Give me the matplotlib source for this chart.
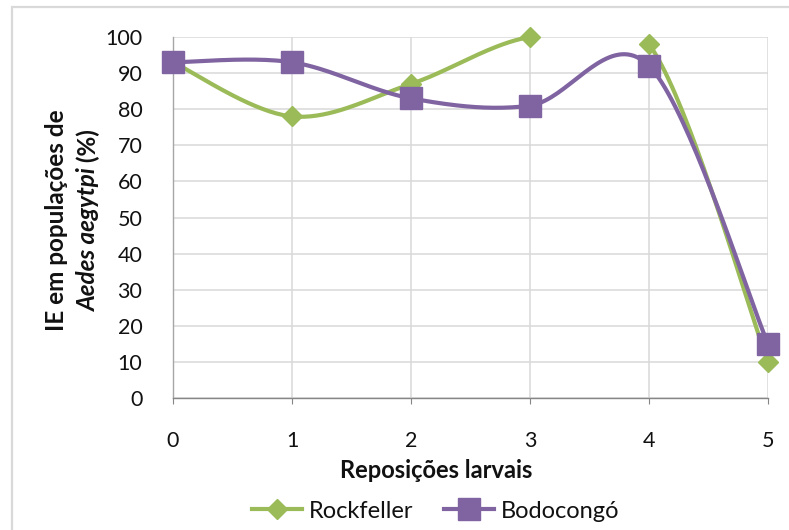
import numpy as np
import matplotlib
matplotlib.use("Agg")
import matplotlib.pyplot as plt
from matplotlib.lines import Line2D
from matplotlib.patches import Rectangle

# Data
reposicoes = [0, 1, 2, 3, 4, 5]
rockfeller = [93, 78, 87, 100, 98, 10]
bodocongo = [93, 93, 83, 81, 92, 15]
rockfeller_sem_linha = [(3, 4)]  # segment left without a connecting line
y_ticks = [0, 10, 20, 30, 40, 50, 60, 70, 80, 90, 100]

VERDE = "#9BBB59"
ROXO = "#8064A2"
GRADE = "#D9D9D9"
FONTE = "Lato"

W, H = 789, 530
plt.rcParams["font.family"] = [FONTE, "DejaVu Sans"]


def suavizar(x, y, passos=40, pular=()):
    """Smoothed curve through the points (cubic Bezier, Catmull-Rom tangents)."""
    x = np.asarray(x, float)
    y = np.asarray(y, float)
    n = len(x)
    xs, ys = [], []
    t = np.linspace(0, 1, passos)
    for i in range(n - 1):
        if (i, i + 1) in pular:
            xs.append(np.nan)
            ys.append(np.nan)
            continue
        a = max(i - 1, 0)
        d = min(i + 2, n - 1)
        p0 = np.array([x[i], y[i]])
        p3 = np.array([x[i + 1], y[i + 1]])
        p1 = p0 + (p3 - np.array([x[a], y[a]])) / 6.0
        p2 = p3 - (np.array([x[d], y[d]]) - p0) / 6.0
        b = ((1 - t) ** 3)[:, None] * p0 + (3 * (1 - t) ** 2 * t)[:, None] * p1 \
            + (3 * (1 - t) * t ** 2)[:, None] * p2 + (t ** 3)[:, None] * p3
        xs.extend(b[:, 0])
        ys.extend(b[:, 1])
    return np.array(xs), np.array(ys)


fig = plt.figure(figsize=(W / 100, H / 100), dpi=100)

# chart area border
fig.patches.append(Rectangle((12 / W, -0.05), 1.2, (H - 7) / H + 0.05,
                             transform=fig.transFigure, fill=False,
                             edgecolor=GRADE, linewidth=1.6))

left, right, top, bottom = 173, 768, 37, 398
ax = fig.add_axes([left / W, (H - bottom) / H, (right - left) / W, (bottom - top) / H])

ax.set_xlim(0, 5)
ax.set_ylim(0, 100)
ax.set_yticks(y_ticks)
ax.set_xticks(reposicoes)
ax.grid(True, color=GRADE, linewidth=1.1)
ax.set_axisbelow(True)
for s in ["top", "right"]:
    ax.spines[s].set_visible(False)
ax.spines["left"].set_color("#A6A6A6")
ax.spines["bottom"].set_color("#868686")
ax.spines["left"].set_linewidth(1.0)
ax.spines["bottom"].set_linewidth(1.0)
ax.tick_params(axis="y", length=0, pad=22, labelsize=15.5, labelcolor="#111111")
ax.tick_params(axis="x", length=4, color="#868686", pad=20, labelsize=15.5, labelcolor="#111111")

xr, yr = suavizar(reposicoes, rockfeller, pular=rockfeller_sem_linha)
xb, yb = suavizar(reposicoes, bodocongo)

ax.plot(xr, yr, color=VERDE, linewidth=3, solid_capstyle="round", clip_on=False, zorder=3)
ax.plot(reposicoes, rockfeller, linestyle="none", marker="D", markersize=10.5,
        color=VERDE, clip_on=False, zorder=4)
ax.plot(xb, yb, color=ROXO, linewidth=3, solid_capstyle="round", clip_on=False, zorder=5)
ax.plot(reposicoes, bodocongo, linestyle="none", marker="s", markersize=15.5,
        color=ROXO, clip_on=False, zorder=6)

# axis titles
fig.text(436 / W, (H - 470) / H, "Reposições larvais", ha="center", va="center",
         fontsize=17, fontweight="bold", color="#111111")

yc = (H - 220) / H
fig.text(57 / W, yc, "IE em populações de", rotation=90, ha="center", va="center",
         fontsize=17.5, fontweight="bold", color="#111111")

renderer = fig.canvas.get_renderer()
t1 = fig.text(0, 0, "Aedes aegytpi", rotation=90, rotation_mode="anchor",
              ha="left", va="center", fontsize=17.5, fontweight="bold",
              fontstyle="italic", color="#111111")
t2 = fig.text(0, 0, " (%)", rotation=90, rotation_mode="anchor",
              ha="left", va="center", fontsize=17.5, fontweight="bold", color="#111111")
h1 = t1.get_window_extent(renderer).height
h2 = t2.get_window_extent(renderer).height
y0 = (H - 220) - (h1 + h2) / 2
t1.set_position((88 / W, y0 / H))
t2.set_position((88 / W, (y0 + h1) / H))

# legend
handles = [
    Line2D([], [], color=VERDE, linewidth=3, marker="D", markersize=10.5),
    Line2D([], [], color=ROXO, linewidth=3, marker="s", markersize=15.5),
]
fig.legend(handles, ["Rockfeller", "Bodocongó"], loc="center",
           bbox_to_anchor=(436 / W, (H - 511) / H), ncol=2, frameon=False,
           fontsize=17, handlelength=2.1, handletextpad=0.3, columnspacing=1.3,
           labelcolor="#111111")

fig.savefig("out.png", dpi=100)
